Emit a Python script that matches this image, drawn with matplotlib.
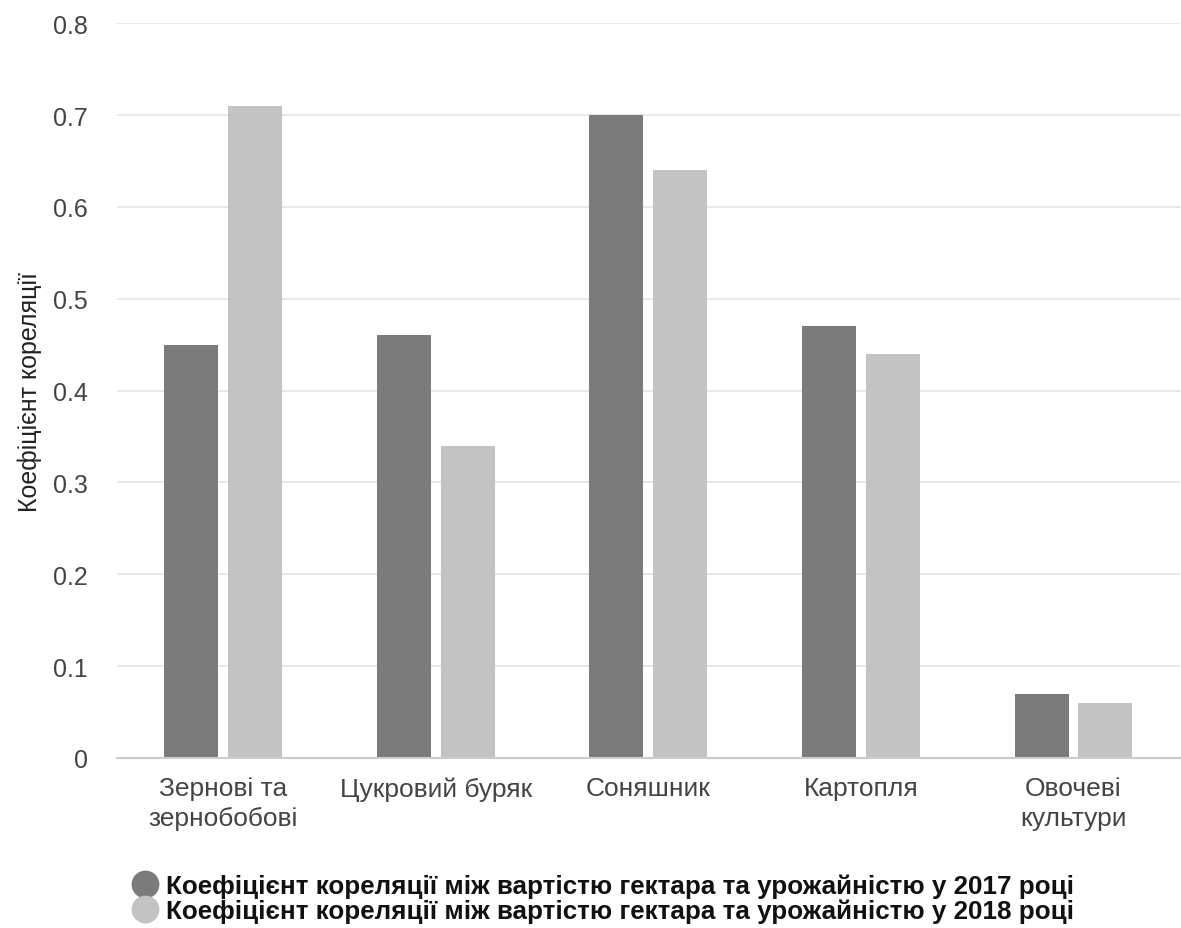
import matplotlib
matplotlib.use("Agg")
import matplotlib.pyplot as plt
from matplotlib.lines import Line2D
import numpy as np

plt.rcParams["font.family"] = ["Liberation Sans", "DejaVu Sans"]

# data
categories = ["Зернові та\nзернобобові", "Цукровий буряк", "Соняшник",
              "Картопля", "Овочеві\nкультури"]
corr_2017 = [0.45, 0.46, 0.70, 0.47, 0.07]
corr_2018 = [0.71, 0.34, 0.64, 0.44, 0.06]
series_labels = [
    "Коефіцієнт кореляції між вартістю гектара та урожайністю у 2017 році",
    "Коефіцієнт кореляції між вартістю гектара та урожайністю у 2018 році",
]
yticks = [0, 0.1, 0.2, 0.3, 0.4, 0.5, 0.6, 0.7, 0.8]

c17, c18 = "#7b7b7b", "#c3c3c3"
txt = "#444444"

fig = plt.figure(figsize=(11.81, 9.29), dpi=100)
ax = fig.add_axes([0.099, 0.183, 0.9, 0.791])

x = np.arange(len(categories))
w = 0.254
ax.bar(x - 0.15, corr_2017, w, color=c17, zorder=3)
ax.bar(x + 0.15, corr_2018, w, color=c18, zorder=3)

ax.set_xlim(-0.5, len(categories) - 0.5)
ax.set_ylim(0, 0.8)
ax.set_yticks(yticks)
ax.set_yticklabels(["0" if v == 0 else f"{v:.1f}" for v in yticks])
ax.set_xticks(x)
ax.set_xticklabels(categories, linespacing=1.3)
ax.tick_params(axis="both", length=0, labelcolor=txt)
ax.tick_params(axis="y", pad=21, labelsize=18)
ax.tick_params(axis="x", pad=13, labelsize=19)

ax.grid(axis="y", color="#e8e8e8", linewidth=1.5, zorder=0)
for s in ["top", "right", "left"]:
    ax.spines[s].set_visible(False)
ax.spines["bottom"].set_color("#cccccc")
ax.spines["bottom"].set_linewidth(1.5)
ax.spines["bottom"].set_zorder(4)

ax.set_ylabel("Коефіцієнт кореляції", fontsize=18, color="#222222", labelpad=8)

handles = [Line2D([], [], marker="o", linestyle="", markersize=19, color=c)
           for c in (c17, c18)]
fig.legend(handles, series_labels, loc="center left",
           bbox_to_anchor=(0.092, 0.032), frameon=False,
           prop={"weight": "bold", "size": 18.7}, handletextpad=0.3,
           labelspacing=0.0, handlelength=1.0, labelcolor="#111111")

fig.savefig("out.png", dpi=100)
